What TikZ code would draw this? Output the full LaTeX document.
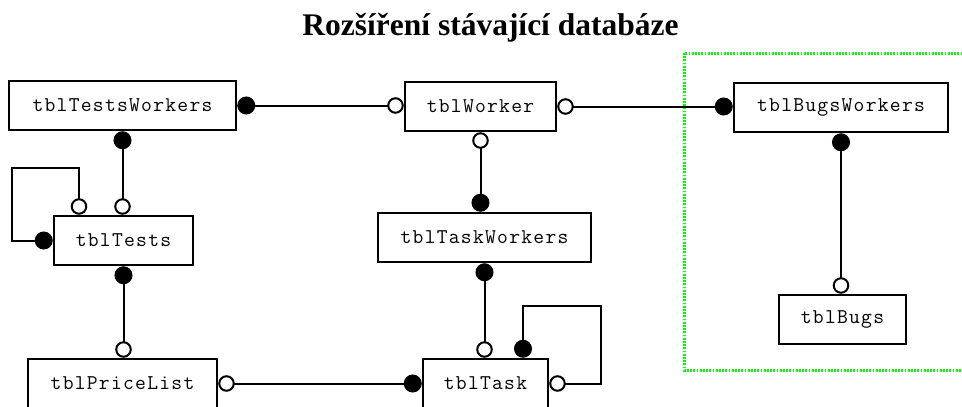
\documentclass[tikz,border=0pt]{standalone}
\usepackage{fontspec}
\setmainfont{Liberation Serif}
\newfontfamily\boxfont{Latin Modern Mono}[LetterSpace=6]
\usetikzlibrary{arrows.meta}
\definecolor{groupgreen}{RGB}{20,240,20}
\begin{document}
\begin{tikzpicture}[x=1pt,y=-1pt,
  tbl/.style={draw, line width=2.5pt, fill=white, inner sep=0pt,
    minimum height=49pt, font=\boxfont\fontsize{21}{24}\selectfont},
  rel/.style={line width=2pt},
  solidend/.tip={Circle[length=18pt]},
  hollowend/.tip={Circle[length=16.5pt, fill=white]},
  group/.style={draw=groupgreen, line width=3pt, dash pattern=on 1.8pt off 1.4pt}
]
\useasboundingbox (0,0) rectangle (962,407);

% title
\node[anchor=base, font=\bfseries\fontsize{31.5}{36}\selectfont] (title) at (490.5,35) {Rozšíření stávající databáze};

% group of the new tables
\draw[group] (684,53) rectangle (975,370);

% tables
\node[tbl, minimum width=227pt] (tw)   at (122.5,105.5) {tblTestsWorkers};
\node[tbl, minimum width=139pt] (tests) at (123.5,240.5) {tblTests};
\node[tbl, minimum width=151pt] (wk)   at (480.5,106.5) {tblWorker};
\node[tbl, minimum width=213pt] (tkw)  at (484.5,237.5) {tblTaskWorkers};
\node[tbl, minimum width=214pt] (bw)   at (841,107.5)   {tblBugsWorkers};
\node[tbl, minimum width=127pt] (bugs) at (842.5,319.5) {tblBugs};
\node[tbl, minimum width=189pt] (pl)   at (122.5,383.5) {tblPriceList};
\node[tbl, minimum width=125pt] (task) at (485.5,383.5) {tblTask};

% relations
\draw[rel, solidend-hollowend] (tw.east) -- (tw.east -| wk.west);
\draw[rel, hollowend-solidend] (wk.east) -- (wk.east -| bw.west);
\draw[rel, hollowend-solidend] (wk.south) -- (wk.south |- tkw.north);
\draw[rel, solidend-hollowend] (tkw.south) -- (tkw.south |- task.north);
\draw[rel, solidend-hollowend] (tw.south) -- (tw.south |- tests.north);
\draw[rel, solidend-hollowend] (tests.south) -- (tests.south |- pl.north);
\draw[rel, hollowend-solidend] (pl.east) -- (pl.east -| task.west);
\draw[rel, solidend-hollowend] (bw.south) -- (bw.south |- bugs.north);

% self references
\draw[rel, hollowend-solidend] ([xshift=-44.5pt]tests.north) |- (12,168) |- (tests.west);
\draw[rel, solidend-hollowend] ([xshift=37.5pt]task.north) |- (601,306) |- (task.east);
\end{tikzpicture}
\end{document}
